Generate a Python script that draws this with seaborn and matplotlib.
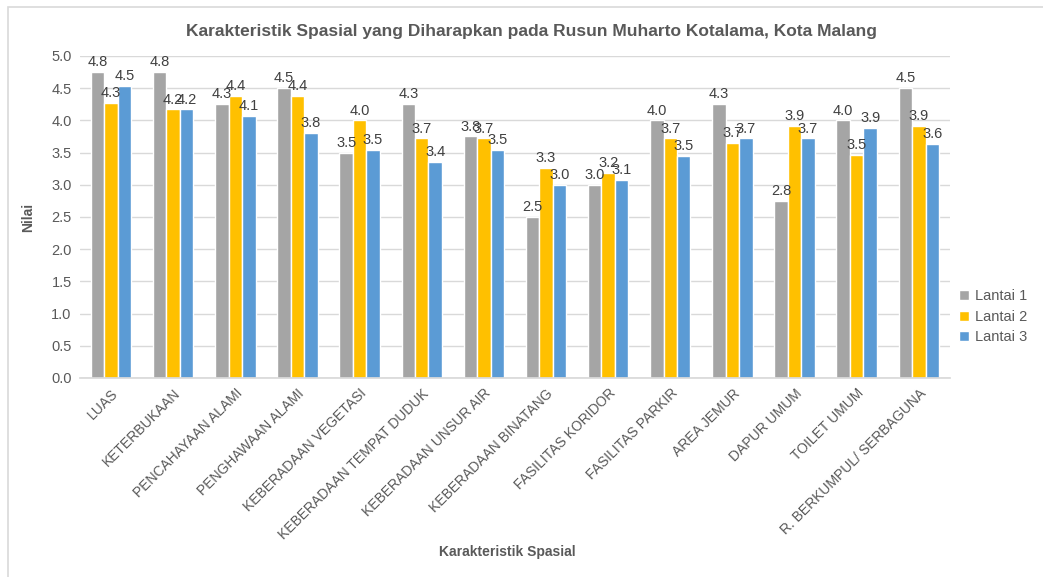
import numpy as np
import pandas as pd
import seaborn as sns
from matplotlib import pyplot as plt
from matplotlib.patches import Rectangle

sns.set_theme(style="white")
plt.rcParams['font.family'] = ['Liberation Sans', 'DejaVu Sans']

# categories and series values
kategori = ["LUAS", "KETERBUKAAN", "PENCAHAYAAN ALAMI", "PENGHAWAAN ALAMI",
            "KEBERADAAN VEGETASI", "KEBERADAAN TEMPAT DUDUK", "KEBERADAAN UNSUR AIR",
            "KEBERADAAN BINATANG", "FASILITAS KORIDOR", "FASILITAS PARKIR",
            "AREA JEMUR", "DAPUR UMUM", "TOILET UMUM", "R. BERKUMPUL/ SERBAGUNA"]
lantai_1 = [4.75, 4.75, 4.25, 4.50, 3.50, 4.25, 3.75, 2.50, 3.00, 4.00, 4.25, 2.75, 4.00, 4.50]
lantai_2 = [4.27, 4.17, 4.38, 4.38, 4.00, 3.72, 3.72, 3.26, 3.19, 3.72, 3.65, 3.92, 3.46, 3.92]
lantai_3 = [4.53, 4.17, 4.07, 3.80, 3.54, 3.36, 3.54, 3.00, 3.08, 3.45, 3.72, 3.72, 3.88, 3.63]
seri = ["Lantai 1", "Lantai 2", "Lantai 3"]
warna = ["#A5A5A5", "#FFC000", "#5B9BD5"]

df = pd.DataFrame({
    "Karakteristik Spasial": kategori * 3,
    "Nilai": lantai_1 + lantai_2 + lantai_3,
    "Lantai": [s for s in seri for _ in kategori],
})

teks = "#595959"
fig = plt.figure(figsize=(10.43, 5.77), dpi=100)
ax = fig.add_axes([0.0767, 0.345, 0.834, 0.558])

sns.barplot(data=df, x="Karakteristik Spasial", y="Nilai", hue="Lantai",
            palette=warna, width=0.65, gap=0, saturation=1, ax=ax)

# data labels, rounded half-up like the spreadsheet
for c in ax.containers:
    vals = c.datavalues
    ax.bar_label(c, labels=[f"{np.floor(v * 10 + 0.5) / 10:.1f}" for v in vals],
                 padding=2, fontsize=10.5, color="#404040")

ax.set_ylim(0, 5.0)
ax.set_yticks(np.arange(0, 5.01, 0.5))
ax.set_yticklabels([f"{t:.1f}" for t in np.arange(0, 5.01, 0.5)], fontsize=10.5, color=teks)
ax.set_xticks(range(len(kategori)))
ax.set_xticklabels(kategori, rotation=45, ha="right", rotation_mode="anchor",
                   fontsize=10, color=teks)
ax.tick_params(axis="both", length=0, pad=6)
ax.grid(axis="y", color="#D9D9D9", linewidth=1)
ax.set_axisbelow(True)
for s in ["top", "right", "left"]:
    ax.spines[s].set_visible(False)
ax.spines["bottom"].set_color("#D9D9D9")
ax.set_xlim(-0.5, len(kategori) - 0.5)

ax.set_ylabel("Nilai", fontsize=10, fontweight="bold", color=teks)
ax.yaxis.set_label_coords(-0.052, 0.5)
ax.set_xlabel("")
fig.text(0.486, 0.043, "Karakteristik Spasial", ha="center", va="center",
         fontsize=10, fontweight="bold", color=teks)
fig.text(0.51, 0.945, "Karakteristik Spasial yang Diharapkan pada Rusun Muharto Kotalama, Kota Malang",
         ha="center", va="center", fontsize=12.5, fontweight="bold", color=teks)

ax.legend(loc="center left", bbox_to_anchor=(0.995, 0.19), frameon=False,
          fontsize=10.5, labelcolor=teks, handlelength=0.7, handleheight=0.7,
          handletextpad=0.4, labelspacing=0.45)

# chart-area border (runs off the right and bottom edges in the reference)
fig.patches.append(Rectangle((8 / 1043, -0.05), 1.05, 1.05 - 7 / 577 + 0.0, transform=fig.transFigure,
                             fill=False, edgecolor="#D9D9D9", linewidth=1.2))

fig.savefig("out.png", dpi=100)
